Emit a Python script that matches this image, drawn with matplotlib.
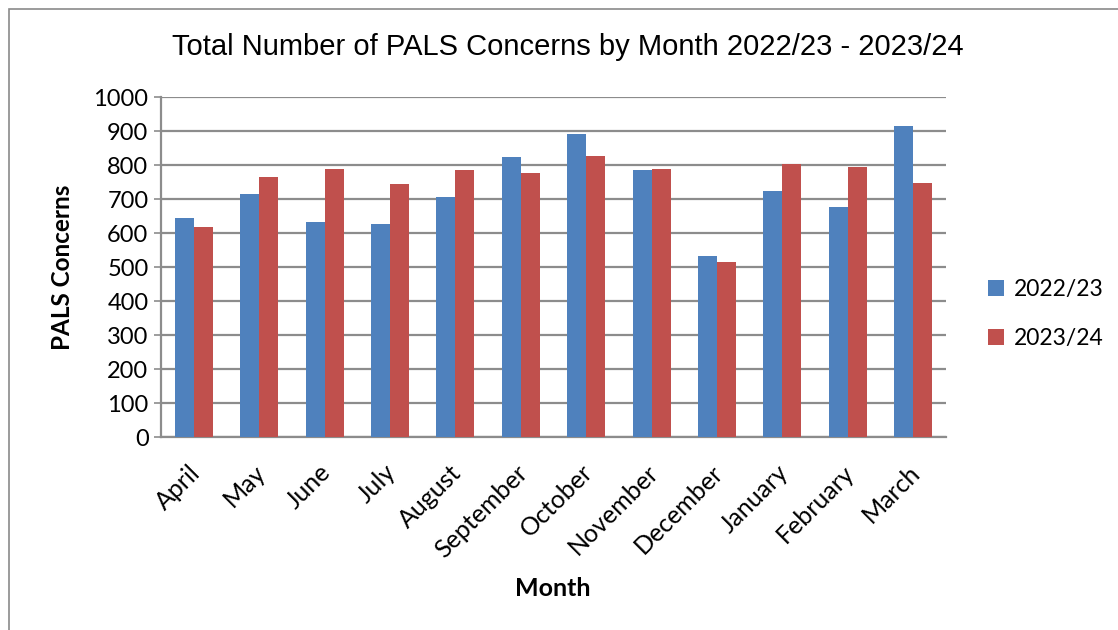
import matplotlib
matplotlib.use("Agg")
import matplotlib.pyplot as plt
import numpy as np
from matplotlib.patches import Rectangle

months = ["April", "May", "June", "July", "August", "September", "October",
          "November", "December", "January", "February", "March"]
series_names = ["2022/23", "2023/24"]
values_2022_23 = [645, 716, 633, 627, 707, 824, 892, 786, 533, 724, 677, 916]
values_2023_24 = [619, 766, 789, 745, 786, 776, 826, 789, 515, 804, 793, 748]
y_ticks = [0, 100, 200, 300, 400, 500, 600, 700, 800, 900, 1000]

BLUE = "#4F81BD"
RED = "#C0504D"
GRID = "#8c8c8c"
BODY = "Lato"

fig = plt.figure(figsize=(11.18, 6.3), dpi=100)
fig.patch.set_facecolor("white")
fig.patches.append(Rectangle((9 / 1118, -0.05), 1.2, 1 - 9 / 630 + 0.05,
                             transform=fig.transFigure, fill=False,
                             edgecolor="#8a8a8a", linewidth=1.2))

ax = fig.add_axes([161 / 1118, 1 - 437 / 630, (946 - 161) / 1118, (437 - 97) / 630])
x = np.arange(len(months))
w = 0.29
ax.bar(x - w / 2, values_2022_23, width=w, color=BLUE, label=series_names[0], zorder=3)
ax.bar(x + w / 2, values_2023_24, width=w, color=RED, label=series_names[1], zorder=3)

ax.set_xlim(-0.5, len(months) - 0.5)
ax.set_ylim(0, 1000)
ax.set_yticks(y_ticks)
ax.set_yticklabels([str(t) for t in y_ticks], fontsize=17, family=BODY)
ax.set_xticks(x)
ax.set_xticklabels([])
for xi, m in zip(x, months):
    ax.annotate(m, xy=(xi, 0), xycoords=("data", "axes fraction"),
                xytext=(-4, -17), textcoords="offset points",
                rotation=45, ha="right", va="top", rotation_mode="anchor",
                fontsize=18, family=BODY)
ax.tick_params(axis="x", length=0)
ax.tick_params(axis="y", length=5, color=GRID, width=1.2, pad=4)
ax.yaxis.grid(True, color=GRID, linewidth=1.6, zorder=0)
ax.set_axisbelow(True)
for s in ["top", "right"]:
    ax.spines[s].set_visible(False)
for s in ["left", "bottom"]:
    ax.spines[s].set_color(GRID)
    ax.spines[s].set_linewidth(1.6)

fig.text(568 / 1118, 1 - 47 / 630, "Total Number of PALS Concerns by Month 2022/23 - 2023/24",
         ha="center", va="center", fontsize=21, family="Liberation Sans")
fig.text(62 / 1118, 1 - 267 / 630, "PALS Concerns", rotation=90, ha="center", va="center",
         fontsize=17.5, fontweight="bold", family=BODY)
fig.text(553 / 1118, 1 - 589 / 630, "Month", ha="center", va="center",
         fontsize=18, fontweight="bold", family=BODY)

leg = fig.legend(loc="center left", bbox_to_anchor=(967 / 1118, 1 - 314 / 630),
                 frameon=False, prop={"family": BODY, "size": 16.5},
                 handlelength=0.7, handleheight=0.7, handletextpad=0.45,
                 labelspacing=1.2)

fig.savefig("out.png", dpi=100, facecolor="white")
